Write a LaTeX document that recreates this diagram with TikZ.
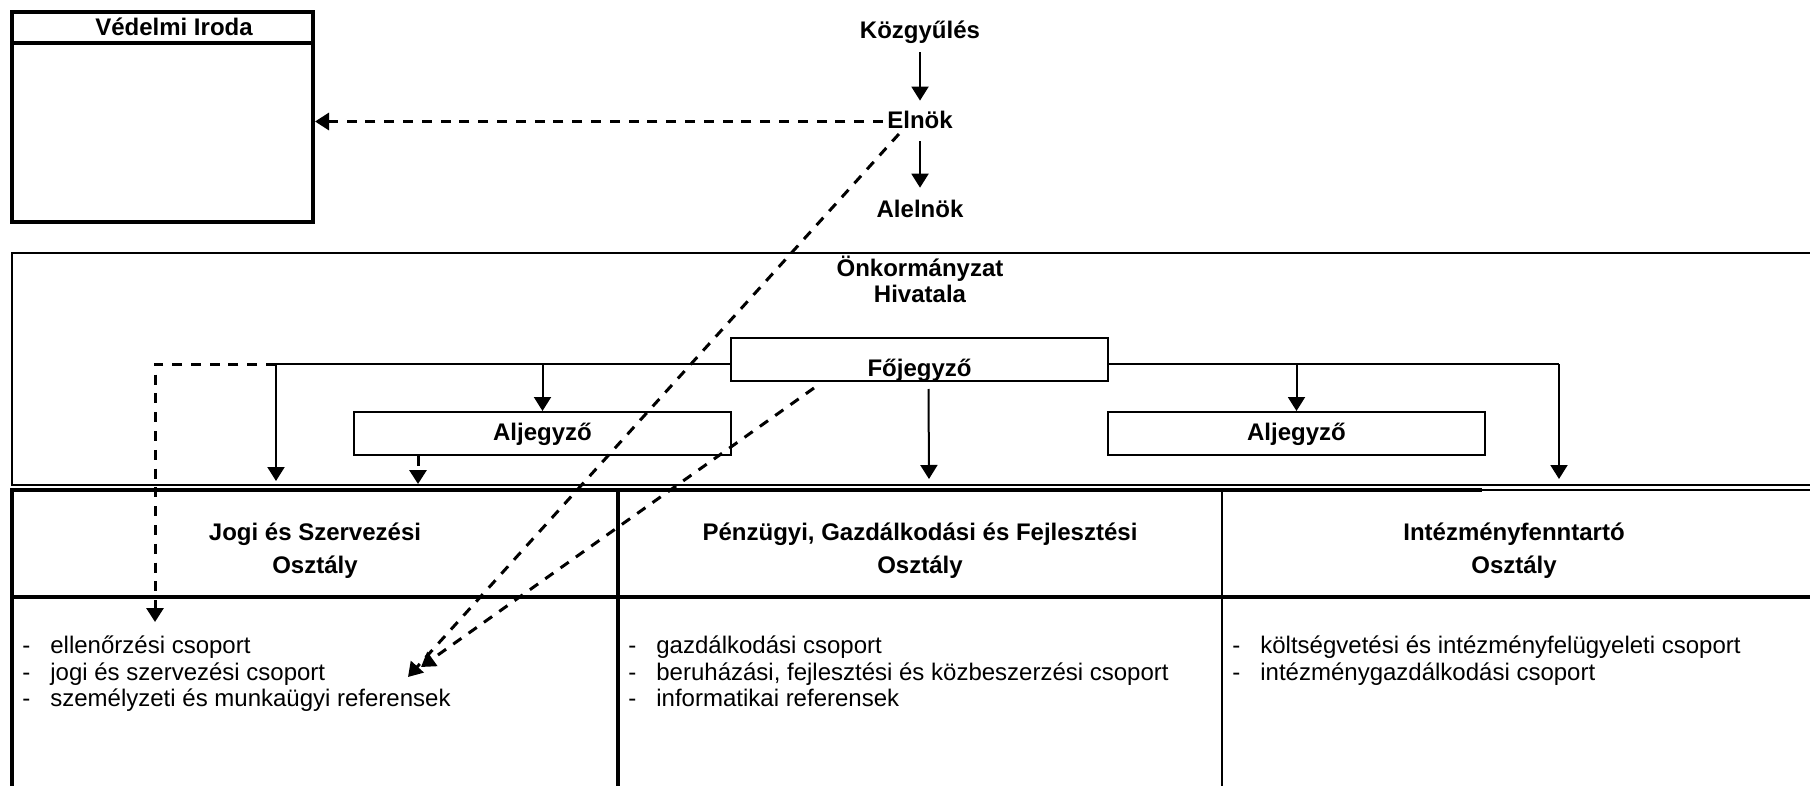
\documentclass[tikz,border=0pt]{standalone}
\usepackage{fontspec}
\setmainfont{Liberation Sans}
\usetikzlibrary{positioning, arrows.meta}

\begin{document}
\begin{tikzpicture}[
    x=0.5pt, y=-0.5pt,
    cim/.style={font=\bfseries\fontsize{12}{14}\selectfont,inner sep=2pt,text height=9.5pt,text depth=2.6pt},
    fejlec/.style={font=\bfseries\fontsize{12}{16.5}\selectfont,align=center,inner sep=0pt},
    tetel/.style={font=\fontsize{12}{14}\selectfont,inner sep=0pt,anchor=mid west},
    iroda/.style={draw,line width=1pt,minimum width=188.5pt,minimum height=21.5pt,inner sep=0pt,
        font=\bfseries\fontsize{12}{14}\selectfont,text height=9.5pt,text depth=2.6pt},
    nyil/.style={-{Triangle[width=8.5pt,length=7pt]},line width=1pt},
    szaggatott/.style={nyil,line width=1.5pt,dash pattern=on 5pt off 4.4pt},
    vastag/.style={line width=2pt},
    vekony/.style={line width=1pt}
]

\useasboundingbox (0,0) rectangle (1810,786);

% Vedelmi Iroda
\node[draw,vastag,minimum width=150.5pt,minimum height=105pt,inner sep=0pt] (vedelmi) at (162.5,117) {};
\coordinate (fejvonal) at (0,43);
\draw[vastag] (vedelmi.west |- fejvonal) -- (vedelmi.east |- fejvonal);
\node[cim] (vedelmicim) at (174,29) {Védelmi Iroda};

% Kozgyules - Elnok - Alelnok
\node[cim] (kozgy) at (920,31.5) {Közgyűlés};
\node[cim] (elnok) at (920,121.5) {Elnök};
\node[cim] (alelnok) at (920,211) {Alelnök};
\draw[nyil,shorten <=2.2pt,shorten >=2.2pt] (kozgy) -- (elnok);
\draw[nyil,shorten <=1.7pt,shorten >=3.4pt] (elnok) -- (alelnok);
\draw[szaggatott] (elnok.west) -- (elnok.west -| vedelmi.east);

% Onkormanyzat Hivatala
\draw[vekony] (1810,253) -- (12,253) -- (12,485) -- (1810,485);
\node[fejlec,font=\bfseries\fontsize{12}{13}\selectfont] (hivatal) at (920,279.5) {Önkormányzat\\Hivatala};

% Fojegyzo and the two Aljegyzo
\node[iroda,text height=17.1pt,text depth=0pt] (fojegyzo) at (919.5,359.5) {Főjegyző};
\node[iroda,below left=14.5pt and -1pt of fojegyzo.south west] (aljegyzo1) {Aljegyző};
\node[iroda,below right=14.5pt and -1pt of fojegyzo.south east] (aljegyzo2) {Aljegyző};

% Branches
\path ([yshift=-2.25pt]fojegyzo.west) coordinate (vonalB)
      ([yshift=-2.25pt]fojegyzo.east) coordinate (vonalJ);
\coordinate (jogiag) at (276,364);
\coordinate (sarok) at (155,364);
\coordinate (intag) at (1559,364);
\coordinate (jogibe) at (276,481);
\coordinate (jogibe2) at (418,484);
\coordinate (penzbe) at (929,479);
\coordinate (intbe) at (1559,479);
\coordinate (ellenorzes) at (155,622);
\draw[vekony] (vonalB) -- (jogiag);
\draw[vekony] (vonalJ) -- (intag);
\draw[nyil] (jogiag) -- (jogibe);
\draw[nyil] (intag) -- (intbe);
\draw[szaggatott] (jogiag) -- (sarok) -- (ellenorzes);
\draw[nyil] (vonalB -| aljegyzo1.north) -- (aljegyzo1.north);
\draw[nyil] (vonalJ -| aljegyzo2.north) -- (aljegyzo2.north);
\draw[nyil] ([xshift=4.5pt,yshift=-3.5pt]fojegyzo.south) -- (penzbe);
\draw[szaggatott] (jogibe2 |- aljegyzo1.south) -- (jogibe2);

% Diagonal links
\coordinate (csopA) at (408,677);
\coordinate (csopB) at (421,667);
\draw[szaggatott] ([xshift=8pt,yshift=2pt]elnok.south west) -- (csopA);
\draw[szaggatott] ([xshift=42pt,yshift=-3pt]fojegyzo.south west) -- (csopB);

% Osztalyok table
\draw[vastag] (12,786) -- (12,490) -- (1482,490);
\draw[vekony] (1482,490) -- (1810,490);
\draw[vastag] (12,597) -- (1810,597);
\draw[vastag] (618,490) -- (618,786);
\draw[vekony] (1222,490) -- (1222,786);

\node[fejlec] (jogi) at (315,551) {Jogi és Szervezési\\Osztály};
\node[fejlec] (penzugy) at (920,551) {Pénzügyi, Gazdálkodási és Fejlesztési\\Osztály};
\node[fejlec] (intezmeny) at (1514,551) {Intézményfenntartó\\Osztály};

\foreach \nev [count=\k] in {ellenőrzési csoport, jogi és szervezési csoport, személyzeti és munkaügyi referensek}
    \node[tetel] (jogi\k) at (22,622+26.5*\k) {\makebox[14pt][l]{-}\nev};
\foreach \nev [count=\k] in {gazdálkodási csoport, {beruházási, fejlesztési és közbeszerzési csoport}, informatikai referensek}
    \node[tetel] (penz\k) at (628,622+26.5*\k) {\makebox[14pt][l]{-}\nev};
\foreach \nev [count=\k] in {költségvetési és intézményfelügyeleti csoport, intézménygazdálkodási csoport}
    \node[tetel] (int\k) at (1232,622+26.5*\k) {\makebox[14pt][l]{-}\nev};

\end{tikzpicture}
\end{document}
